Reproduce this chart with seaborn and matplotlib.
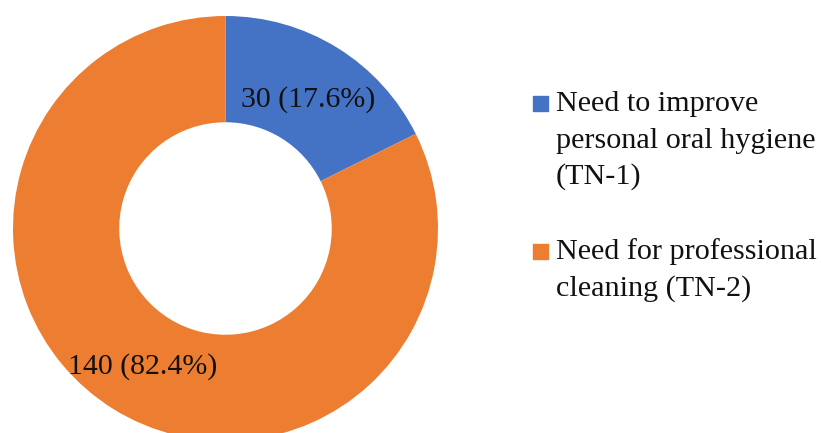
import matplotlib
matplotlib.use("Agg")
import matplotlib.pyplot as plt
import seaborn as sns
from matplotlib.patches import Rectangle

categories = ["Need to improve\npersonal oral hygiene\n(TN-1)",
              "Need for professional\ncleaning (TN-2)"]
values = [30, 140]
colors = ["#4472C4", "#ED7D31"]

sns.set_theme(style="white")
plt.rcParams['font.family'] = ['Liberation Serif', 'DejaVu Serif']

W, H = 821, 433
fig = plt.figure(figsize=(W / 100, H / 100), dpi=100)
cx, cy, r = 225.5, 228.5, 212.5
ax = fig.add_axes([(cx - r) / W, (H - cy - r) / H, 2 * r / W, 2 * r / H])

total = sum(values)

def fmt(pct):
    return f"{round(pct * total / 100)} ({pct:.1f}%)"

wedges, texts, autotexts = ax.pie(
    values, colors=colors, startangle=90, counterclock=False,
    radius=1.0, wedgeprops=dict(width=0.5, linewidth=0),
    autopct=fmt, pctdistance=0.74,
    textprops=dict(fontsize=21.5, color="#111111"))
for t in autotexts:
    x, y = t.get_position()
    t.set_position((x, y - 0.022))
ax.set_xlim(-1, 1)
ax.set_ylim(-1, 1)
ax.set_aspect("equal")
ax.axis("off")

# legend (manual, to match the reference layout)
fs = 21.7
line_h = 36.5
entries_top = [104, 252]
for cat, col, y0 in zip(categories, colors, entries_top):
    fig.patches.append(Rectangle(((533) / W, (H - y0 - 7) / H), 15 / W, 15 / H,
                                 transform=fig.transFigure, color=col,
                                 figure=fig))
    for i, line in enumerate(cat.split("\n")):
        fig.text(556 / W, (H - (y0 + i * line_h)) / H, line, fontsize=fs,
                 va="center", ha="left", color="#111111")

fig.savefig("out.png", dpi=100)
